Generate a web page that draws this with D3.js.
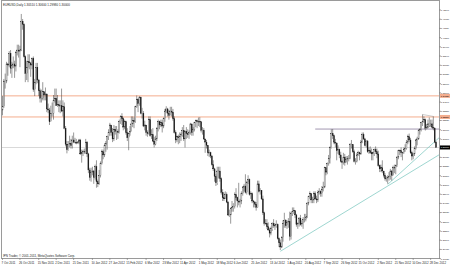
<!DOCTYPE html>
<html>
<head>
<meta charset="utf-8">
<script src="https://cdn.jsdelivr.net/npm/d3@7"></script>
<style>
  body { margin: 0; background: #fff; }
  text { font-family: "Liberation Sans", Arial, sans-serif; }
</style>
</head>
<body>
<div id="chart"></div>
<script>
// EURUSD daily bars as [high, low, close]; the open is the previous close
const firstOpen = 1.3350
const oct11 = [[1.3480,1.3300,1.3380],
  [1.3640,1.3370,1.3620],[1.3690,1.3550,1.3620],[1.3800,1.3600,1.3780],[1.3790,1.3670,1.3770],[1.3900,1.3750,1.3880],
  [1.3910,1.3690,1.3740],[1.3800,1.3650,1.3770],[1.3850,1.3740,1.3780],[1.3810,1.3650,1.3760],[1.3900,1.3710,1.3890],
  [1.3960,1.3860,1.3910],[1.3960,1.3840,1.3900],[1.3950,1.3750,1.3910],[1.4247,1.3900,1.4180],[1.4200,1.4100,1.4150],
  [1.4160,1.3840,1.3850]]
const nov11 = [[1.3860,1.3610,1.3690],[1.3810,1.3630,1.3750],[1.3870,1.3610,1.3800],[1.3870,1.3730,1.3790],
  [1.3800,1.3660,1.3770],[1.3840,1.3730,1.3830],[1.3850,1.3520,1.3540],[1.3640,1.3480,1.3610],[1.3790,1.3590,1.3750],
  [1.3790,1.3600,1.3630],[1.3640,1.3480,1.3530],[1.3550,1.3420,1.3460],[1.3540,1.3420,1.3460],[1.3610,1.3440,1.3520],
  [1.3520,1.3440,1.3490],[1.3560,1.3440,1.3500],[1.3500,1.3330,1.3360],[1.3410,1.3320,1.3350],[1.3370,1.3210,1.3240],
  [1.3390,1.3270,1.3320],[1.3420,1.3290,1.3320],[1.3490,1.3260,1.3440]]
const dec11 = [[1.3550,1.3420,1.3460],[1.3550,1.3390,1.3390],
  [1.3490,1.3380,1.3400],[1.3440,1.3330,1.3390],[1.3440,1.3320,1.3390],[1.3550,1.3330,1.3340],[1.3440,1.3290,1.3380],
  [1.3420,1.3170,1.3180],[1.3200,1.3010,1.3030],[1.3060,1.2945,1.2980],[1.3060,1.2970,1.3030],[1.3110,1.3000,1.3040],
  [1.3080,1.2990,1.3020],[1.3110,1.2990,1.3070],[1.3140,1.3040,1.3050],[1.3090,1.3040,1.3050],[1.3080,1.3030,1.3040],
  [1.3060,1.3040,1.3050],[1.3080,1.3030,1.3070],[1.3080,1.2930,1.2940],[1.2980,1.2858,1.2950],[1.2980,1.2920,1.2960]]
const jan12 = [[1.2990,1.2940,1.2960],[1.3080,1.2940,1.3050],[1.3060,1.2910,1.2940],[1.2950,1.2760,1.2790],[1.2810,1.2690,1.2720],
  [1.2810,1.2680,1.2770],[1.2820,1.2740,1.2780],[1.2790,1.2660,1.2720],[1.2840,1.2700,1.2820],[1.2880,1.2624,1.2680],
  [1.2700,1.2630,1.2660],[1.2790,1.2650,1.2740],[1.2870,1.2720,1.2850],[1.2980,1.2840,1.2960],[1.2980,1.2890,1.2930],
  [1.3040,1.2910,1.3020],[1.3060,1.2960,1.3040],[1.3110,1.2980,1.3100],[1.3170,1.3070,1.3140],[1.3230,1.3110,1.3210],
  [1.3200,1.3110,1.3140],[1.3180,1.3050,1.3080]]
const feb12 = [[1.3210,1.3060,1.3170],[1.3200,1.3120,1.3150],[1.3200,1.3070,1.3150],
  [1.3170,1.3080,1.3140],[1.3260,1.3130,1.3240],[1.3300,1.3220,1.3290],[1.3320,1.3210,1.3270],[1.3280,1.3160,1.3190],
  [1.3260,1.3170,1.3240],[1.3250,1.3120,1.3140],[1.3180,1.3060,1.3090],[1.3140,1.2974,1.3130],[1.3200,1.3110,1.3150],
  [1.3290,1.3150,1.3220],[1.3290,1.3190,1.3250],[1.3280,1.3180,1.3240],[1.3390,1.3230,1.3380],[1.3486,1.3370,1.3450],
  [1.3460,1.3330,1.3410],[1.3480,1.3390,1.3470],[1.3475,1.3310,1.3320]]
const mar12 = [[1.3370,1.3270,1.3320],[1.3340,1.3190,1.3200],
  [1.3250,1.3160,1.3210],[1.3210,1.3110,1.3140],[1.3160,1.3100,1.3130],[1.3290,1.3120,1.3260],[1.3290,1.3100,1.3110],
  [1.3170,1.3080,1.3120],[1.3180,1.3050,1.3060],[1.3100,1.3000,1.3030],[1.3110,1.3020,1.3080],[1.3190,1.3060,1.3180],
  [1.3260,1.3150,1.3240],[1.3250,1.3170,1.3210],[1.3260,1.3190,1.3230],[1.3260,1.3140,1.3200],[1.3280,1.3180,1.3270],
  [1.3360,1.3240,1.3340],[1.3385,1.3320,1.3360],[1.3370,1.3290,1.3320],[1.3350,1.3260,1.3300],[1.3380,1.3300,1.3340]]
const apr12 = [[1.3380,1.3290,1.3330],[1.3360,1.3250,1.3270],[1.3290,1.3130,1.3140],[1.3160,1.3040,1.3070],[1.3110,1.3050,1.3100],
  [1.3120,1.3030,1.3090],[1.3140,1.3040,1.3100],[1.3140,1.3060,1.3120],[1.3190,1.3100,1.3160],[1.3210,1.3060,1.3080],
  [1.3160,1.3000,1.3150],[1.3190,1.3080,1.3130],[1.3170,1.3090,1.3120],[1.3160,1.3080,1.3140],[1.3230,1.3120,1.3220],
  [1.3220,1.3110,1.3140],[1.3190,1.3110,1.3170],[1.3240,1.3150,1.3230],[1.3260,1.3190,1.3250],[1.3260,1.3180,1.3240],
  [1.3280,1.3200,1.3240]]
const may12 = [[1.3283,1.3190,1.3240],[1.3240,1.3140,1.3160],[1.3190,1.3120,1.3160],[1.3180,1.3070,1.3080],
  [1.3080,1.2950,1.3050],[1.3070,1.2990,1.3020],[1.3020,1.2920,1.2950],[1.2980,1.2910,1.2950],[1.2960,1.2900,1.2920],
  [1.2930,1.2830,1.2840],[1.2880,1.2780,1.2800],[1.2810,1.2680,1.2730],[1.2750,1.2640,1.2670],[1.2820,1.2650,1.2780],
  [1.2820,1.2710,1.2780],[1.2820,1.2680,1.2710],[1.2720,1.2560,1.2580],[1.2610,1.2500,1.2530],[1.2580,1.2500,1.2520],
  [1.2590,1.2520,1.2560],[1.2580,1.2480,1.2490],[1.2500,1.2360,1.2370],[1.2420,1.2350,1.2370]]
const jun12 = [[1.2440,1.2288,1.2430],
  [1.2500,1.2400,1.2440],[1.2480,1.2400,1.2450],[1.2580,1.2430,1.2560],[1.2620,1.2510,1.2530],[1.2540,1.2440,1.2500],
  [1.2670,1.2460,1.2490],[1.2520,1.2440,1.2500],[1.2590,1.2470,1.2570],[1.2640,1.2550,1.2630],[1.2660,1.2590,1.2640],
  [1.2750,1.2570,1.2580],[1.2690,1.2560,1.2670],[1.2740,1.2660,1.2700],[1.2710,1.2550,1.2560],[1.2590,1.2520,1.2570],
  [1.2580,1.2480,1.2500],[1.2510,1.2440,1.2490],[1.2500,1.2440,1.2470],[1.2490,1.2410,1.2440],[1.2690,1.2440,1.2660]]
const jul12 = [[1.2690,1.2580,1.2590],[1.2620,1.2560,1.2600],[1.2600,1.2510,1.2520],[1.2550,1.2370,1.2390],[1.2400,1.2270,1.2290],
  [1.2330,1.2280,1.2290],[1.2330,1.2240,1.2260],[1.2300,1.2220,1.2230],[1.2250,1.2160,1.2200],[1.2260,1.2180,1.2240],
  [1.2300,1.2220,1.2290],[1.2330,1.2250,1.2270],[1.2290,1.2230,1.2270],[1.2320,1.2250,1.2280],[1.2290,1.2140,1.2150],
  [1.2160,1.2070,1.2110],[1.2140,1.2042,1.2070],[1.2170,1.2060,1.2160],[1.2320,1.2120,1.2290],[1.2390,1.2250,1.2320],
  [1.2330,1.2250,1.2270],[1.2320,1.2240,1.2300]]
const aug12 = [[1.2340,1.2250,1.2310],[1.2400,1.2130,1.2170],[1.2400,1.2140,1.2380],
  [1.2440,1.2360,1.2400],[1.2440,1.2380,1.2410],[1.2410,1.2340,1.2370],[1.2380,1.2260,1.2280],[1.2300,1.2240,1.2290],
  [1.2350,1.2260,1.2340],[1.2370,1.2270,1.2280],[1.2320,1.2260,1.2290],[1.2350,1.2240,1.2330],[1.2380,1.2300,1.2330],
  [1.2380,1.2310,1.2350],[1.2490,1.2340,1.2480],[1.2550,1.2460,1.2540],[1.2590,1.2520,1.2570],[1.2570,1.2480,1.2510],
  [1.2540,1.2480,1.2510],[1.2590,1.2480,1.2570],[1.2590,1.2510,1.2520],[1.2550,1.2480,1.2510],[1.2600,1.2490,1.2580]]
const sep12 = [[1.2620,1.2560,1.2590],[1.2600,1.2540,1.2570],[1.2640,1.2540,1.2610],[1.2680,1.2590,1.2630],[1.2820,1.2620,1.2810],
  [1.2810,1.2740,1.2770],[1.2860,1.2750,1.2850],[1.2930,1.2830,1.2900],[1.3010,1.2850,1.3000],[1.3170,1.2990,1.3130],
  [1.3172,1.3080,1.3110],[1.3120,1.3030,1.3050],[1.3080,1.3000,1.3040],[1.3050,1.2880,1.2970],[1.3020,1.2940,1.2980],
  [1.2990,1.2900,1.2930],[1.2960,1.2860,1.2870],[1.2880,1.2800,1.2860],[1.2950,1.2840,1.2910],[1.2940,1.2830,1.2860]]
const oct12 = [[1.2920,1.2860,1.2890],[1.2920,1.2840,1.2900],[1.2930,1.2870,1.2900],[1.3040,1.2890,1.3030],[1.3070,1.2990,1.3030],
  [1.3020,1.2950,1.2960],[1.2980,1.2860,1.2870],[1.2900,1.2840,1.2870],[1.2950,1.2860,1.2930],[1.2970,1.2920,1.2950],
  [1.2960,1.2880,1.2940],[1.3070,1.2930,1.3050],[1.3140,1.3040,1.3120],[1.3140,1.3070,1.3080],[1.3090,1.3010,1.3020],
  [1.3070,1.3000,1.3060],[1.3070,1.2950,1.2960],[1.3000,1.2940,1.2970],[1.3010,1.2940,1.2950],[1.2990,1.2880,1.2940],
  [1.2960,1.2880,1.2950],[1.2990,1.2920,1.2980],[1.3010,1.2940,1.2960]]
const nov12 = [[1.2990,1.2900,1.2940],[1.2970,1.2820,1.2830],
  [1.2840,1.2770,1.2800],[1.2840,1.2770,1.2810],[1.2880,1.2760,1.2780],[1.2780,1.2720,1.2740],[1.2760,1.2690,1.2710],
  [1.2730,1.2680,1.2710],[1.2740,1.2661,1.2720],[1.2770,1.2690,1.2730],[1.2800,1.2700,1.2780],[1.2790,1.2690,1.2740],
  [1.2830,1.2740,1.2810],[1.2840,1.2760,1.2810],[1.2840,1.2750,1.2830],[1.2920,1.2820,1.2910],[1.2980,1.2890,1.2970],
  [1.2980,1.2930,1.2970],[1.3000,1.2910,1.2950],[1.2960,1.2880,1.2950],[1.3000,1.2940,1.2980],[1.3030,1.2960,1.2990]]
const dec12 = [[1.3070,1.2980,1.3050],[1.3120,1.3030,1.3100],[1.3130,1.3050,1.3070],[1.3090,1.2940,1.2950],[1.2970,1.2880,1.2920],
  [1.2950,1.2890,1.2940],[1.3010,1.2920,1.2990],[1.3080,1.2980,1.3070],[1.3100,1.3020,1.3080],[1.3170,1.3070,1.3160],
  [1.3180,1.3120,1.3170],[1.3240,1.3150,1.3230],[1.3308,1.3200,1.3240],[1.3290,1.3230,1.3260],[1.3270,1.3160,1.3180],
  [1.3220,1.3180,1.3190],[1.3260,1.3180,1.3220],[1.3280,1.3190,1.3220],[1.3260,1.3190,1.3220],
  [1.3260,1.3180,1.3190]]
const jan13 = [[1.3290,1.3160,1.3180],[1.3190,1.3040,1.3050],[1.3060,1.2998,1.3000]]

const holidays = ["2012-12-25", "2013-01-01"]

// price axis labels and bottom time labels
const priceTicks = [1.4284, 1.4198, 1.4112, 1.4026, 1.3940, 1.3854, 1.3768, 1.3682, 1.3596, 1.3510,
  1.3424, 1.3338, 1.3252, 1.3166, 1.3080, 1.2994, 1.2908, 1.2822, 1.2736, 1.2650,
  1.2564, 1.2478, 1.2392, 1.2306, 1.2220, 1.2134, 1.2048, 1.1962]
const dateTicks = ["2011-10-07","2011-10-26","2011-11-15","2011-12-02","2011-12-21","2012-01-10","2012-01-27",
  "2012-02-15","2012-03-06","2012-03-23","2012-04-11","2012-05-01","2012-05-18","2012-06-06","2012-06-25",
  "2012-07-13","2012-08-01","2012-08-20","2012-09-07","2012-09-26","2012-10-15","2012-11-02","2012-11-21",
  "2012-12-10","2012-12-28"]

// drawn objects
const hLevels = [1.3482, 1.3285]
const resistance = {from: "2012-08-29", price: 1.3172}
const trendRays = [
  {from: ["2012-07-24", 1.2030], to: ["2013-01-04", 1.2914]},
  {from: ["2012-11-13", 1.2655], to: ["2013-01-04", 1.3065]}
]
const wedge = [
  {from: ["2012-12-19", 1.3308], to: ["2013-01-02", 1.3290]},
  {from: ["2012-12-21", 1.3160], to: ["2013-01-02", 1.3230]}
]
const title = "EURUSD,Daily  1.30510 1.30600 1.29980 1.30000"
const copyright = "IPN Trader, \u00a9 2001-2011, MetaQuotes Software Corp."

const width = 450, height = 265
const plot = {left: 1.5, right: 439.5, top: 0.5, bottom: 258.5}

const key = d3.timeFormat("%Y-%m-%d")
const days = d3.timeDay.range(new Date(2011, 9, 7), new Date(2013, 0, 5))
  .filter(d => d.getDay() !== 0 && d.getDay() !== 6 && !holidays.includes(key(d)))

const raw = [].concat(oct11, nov11, dec11, jan12, feb12, mar12, apr12, may12, jun12,
  jul12, aug12, sep12, oct12, nov12, dec12, jan13)
if (raw.length !== days.length) console.warn("bar count", raw.length, days.length)

const bars = raw.map((b, i) => ({
  date: days[i], key: key(days[i]),
  o: i ? raw[i - 1][2] : firstOpen, h: b[0], l: b[1], c: b[2]
}))
const last = bars[bars.length - 1]

const svg = d3.select("#chart").append("svg")
  .attr("width", width).attr("height", height)
  .style("display", "block")

svg.append("rect").attr("width", width).attr("height", height).attr("fill", "#fff")

const x = d3.scalePoint()
  .domain(bars.map(d => d.key))
  .range([2.5, 436])

const y = d3.scaleLinear()
  .domain([1.1962, 1.4284])
  .range([258.6, 10])

// bid line and horizontal levels
svg.append("line")
  .attr("x1", plot.left).attr("x2", plot.right)
  .attr("y1", Math.round(y(last.c)) + 0.5).attr("y2", Math.round(y(last.c)) + 0.5)
  .attr("stroke", "#d9d9d9").attr("stroke-width", 1)

svg.selectAll(".level").data(hLevels).enter().append("line")
  .attr("class", "level")
  .attr("x1", plot.left).attr("x2", plot.right)
  .attr("y1", d => y(d)).attr("y2", d => y(d))
  .attr("stroke", "#f4ad8e").attr("stroke-width", 1)

svg.append("line")
  .attr("x1", x(resistance.from)).attr("x2", plot.right)
  .attr("y1", y(resistance.price)).attr("y2", y(resistance.price))
  .attr("stroke", "#8a7c9c").attr("stroke-width", 0.8)

// rays run on to the price axis
svg.selectAll(".ray").data(trendRays).enter().append("line")
  .attr("class", "ray")
  .attr("x1", d => x(d.from[0])).attr("y1", d => y(d.from[1]))
  .attr("x2", plot.right)
  .attr("y2", d => {
    const x1 = x(d.from[0]), x2 = x(d.to[0]), y1 = y(d.from[1]), y2 = y(d.to[1])
    return y1 + (y2 - y1) * (plot.right - x1) / (x2 - x1)
  })
  .attr("stroke", "#74c4bc").attr("stroke-width", 0.7)

svg.selectAll(".wedge").data(wedge).enter().append("line")
  .attr("class", "wedge")
  .attr("x1", d => x(d.from[0])).attr("y1", d => y(d.from[1]))
  .attr("x2", d => x(d.to[0])).attr("y2", d => y(d.to[1]))
  .attr("stroke", "#999").attr("stroke-width", 0.5)

// candles
const candle = svg.append("g").selectAll("g").data(bars).enter().append("g")

candle.append("line")
  .attr("x1", d => x(d.key)).attr("x2", d => x(d.key))
  .attr("y1", d => y(d.h)).attr("y2", d => y(d.l))
  .attr("stroke", "#444").attr("stroke-width", 0.55)

candle.append("rect")
  .attr("x", d => x(d.key) - 0.5)
  .attr("width", 1)
  .attr("y", d => y(Math.max(d.o, d.c)))
  .attr("height", d => Math.max(0.4, Math.abs(y(d.o) - y(d.c))))
  .attr("fill", d => d.c >= d.o ? "#fff" : "#111")
  .attr("stroke", "#222").attr("stroke-width", 0.3)

// frame
svg.append("rect")
  .attr("x", plot.left).attr("y", plot.top)
  .attr("width", plot.right - plot.left).attr("height", plot.bottom - plot.top)
  .attr("fill", "none").attr("stroke", "#9a9a9a").attr("stroke-width", 1)

// price axis
const fmt5 = d3.format(".5f")
svg.selectAll(".ptick").data(priceTicks).enter().append("line")
  .attr("x1", plot.right).attr("x2", plot.right + 1.5)
  .attr("y1", d => y(d)).attr("y2", d => y(d))
  .attr("stroke", "#555").attr("stroke-width", 0.5)
svg.append("g").selectAll("text").data(priceTicks).enter().append("text")
  .attr("x", 440.8).attr("y", d => y(d) + 0.9)
  .attr("font-size", 2.25).attr("fill", "#222")
  .text(d => fmt5(d))

// highlighted price tags
const tags = hLevels.map(p => ({p: p, bg: "#f4ad8e", fg: "#000"}))
  .concat([{p: last.c, bg: "#000", fg: "#fff"}])
svg.selectAll(".tag").data(tags).enter().append("rect")
  .attr("x", 440).attr("y", d => y(d.p) - 2).attr("width", 10).attr("height", 4)
  .attr("fill", d => d.bg)
svg.selectAll(".tagt").data(tags).enter().append("text")
  .attr("x", 440.8).attr("y", d => y(d.p) + 0.9)
  .attr("font-size", 2.25).attr("fill", d => d.fg)
  .text(d => fmt5(d.p))

// time axis
const dayLabel = d3.timeFormat("%-d %b %Y")
const parse = d3.timeParse("%Y-%m-%d")
svg.selectAll(".dtick").data(dateTicks).enter().append("line")
  .attr("x1", d => x(d)).attr("x2", d => x(d))
  .attr("y1", plot.bottom).attr("y2", plot.bottom + 1.5)
  .attr("stroke", "#555").attr("stroke-width", 0.5)
svg.selectAll(".dlabel").data(dateTicks).enter().append("text")
  .attr("x", d => x(d) - 1).attr("y", 263.5)
  .attr("font-size", 2.9).attr("fill", "#222")
  .text(d => dayLabel(parse(d)))

svg.append("text").attr("x", 3).attr("y", 5.5)
  .attr("font-size", 3).attr("fill", "#222").text(title)
svg.append("text").attr("x", 3).attr("y", 256.5)
  .attr("font-size", 3).attr("fill", "#222").text(copyright)
</script>
</body>
</html>
